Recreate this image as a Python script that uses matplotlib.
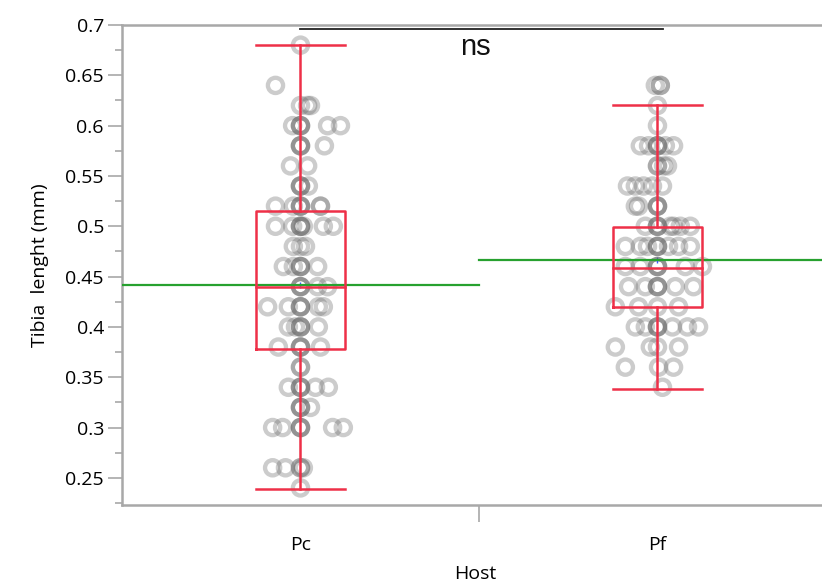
import numpy as np
import matplotlib
matplotlib.use('Agg')
import matplotlib.pyplot as plt
from matplotlib.ticker import MultipleLocator, FixedLocator

hosts = ['Pc', 'Pf']

# (value, horizontal jitter of each point at that value)
pc_rows = [
    (0.68, [0]),
    (0.64, [-0.07]),
    (0.62, [0, 0.02, 0.028]),
    (0.60, [-0.022, 0, 0, 0, 0.076, 0.112]),
    (0.58, [0, 0, 0, 0.067]),
    (0.56, [-0.028, 0.02]),
    (0.54, [0, 0, 0, 0.022]),
    (0.52, [-0.07, -0.02, 0, 0, 0, 0.056, 0.056]),
    (0.50, [-0.07, -0.022, 0, 0, 0, 0.008, 0.064, 0.092]),
    (0.48, [-0.02, 0, 0.014]),
    (0.46, [-0.048, -0.02, 0, 0, 0, 0.048]),
    (0.44, [0, 0, 0, 0.048, 0.076]),
    (0.42, [-0.092, -0.034, 0, 0, 0, 0.05, 0.064]),
    (0.40, [-0.034, -0.014, 0, 0, 0, 0.05]),
    (0.38, [-0.062, 0, 0, 0, 0.056]),
    (0.36, [0, 0]),
    (0.34, [-0.034, 0, 0, 0, 0.042, 0.078]),
    (0.32, [0, 0, 0, 0.028]),
    (0.30, [-0.078, -0.05, 0, 0, 0, 0.09, 0.12]),
    (0.26, [-0.078, -0.042, 0, 0, 0.008]),
    (0.24, [0]),
]

pf_rows = [
    (0.64, [-0.006, 0.008, 0.008]),
    (0.62, [0]),
    (0.60, [0]),
    (0.58, [-0.048, -0.025, 0, 0, 0, 0.022, 0.045]),
    (0.56, [0, 0, 0.017, 0.028]),
    (0.54, [-0.084, -0.062, -0.039, -0.014, 0.014]),
    (0.52, [-0.062, -0.053, 0, 0, 0]),
    (0.50, [-0.034, 0, 0, 0, 0.036, 0.045, 0.064, 0.092]),
    (0.48, [-0.09, -0.048, -0.028, 0, 0, 0, 0.031, 0.059, 0.092]),
    (0.46, [-0.09, -0.048, 0, 0, 0, 0.078, 0.126]),
    (0.44, [-0.081, -0.034, 0, 0, 0, 0.05, 0.101]),
    (0.42, [-0.118, -0.053, 0, 0.059]),
    (0.40, [-0.062, -0.034, 0, 0, 0, 0.042, 0.084, 0.115]),
    (0.38, [-0.118, -0.02, 0, 0.059]),
    (0.36, [-0.09, 0.003, 0.045]),
    (0.34, [0.014]),
]

# box summary
q1 = [0.378, 0.420]
median = [0.440, 0.459]
q3 = [0.515, 0.499]
whisk_lo = [0.239, 0.338]
whisk_hi = [0.680, 0.621]
means = [0.4415, 0.4665]

plt.rcParams['font.family'] = ['Open Sans', 'DejaVu Sans']

fig = plt.figure(figsize=(8.22, 5.86), dpi=100)
ax = fig.add_axes([0.1484, 0.1382, 0.8686, 0.8191])

red = '#ee3048'
green = '#27a12f'
hw = 0.125

for i, rows in enumerate([pc_rows, pf_rows]):
    xs, ys = [], []
    for v, dxs in rows:
        for dx in dxs:
            xs.append(i + dx)
            ys.append(v)
    ax.scatter(xs, ys, s=120, facecolors='none', edgecolors='#666666',
               linewidths=3.1, alpha=0.33, zorder=2)
    # mean line across the category
    ax.plot([i - 0.5, i + 0.5], [means[i], means[i]], color=green, lw=1.6, zorder=4)
    ax.plot([i], [means[i]], marker='+', color='#3a5cff', ms=5, mew=1, zorder=1)
    # box
    ax.plot([i - hw, i + hw, i + hw, i - hw, i - hw],
            [q1[i], q1[i], q3[i], q3[i], q1[i]], color=red, lw=1.8, zorder=5)
    ax.plot([i - hw, i + hw], [median[i], median[i]], color=red, lw=1.8, zorder=5)
    ax.plot([i, i], [q3[i], whisk_hi[i]], color=red, lw=1.8, zorder=5)
    ax.plot([i, i], [whisk_lo[i], q1[i]], color=red, lw=1.8, zorder=5)
    ax.plot([i - hw, i + hw], [whisk_hi[i], whisk_hi[i]], color=red, lw=1.8, zorder=5)
    ax.plot([i - hw, i + hw], [whisk_lo[i], whisk_lo[i]], color=red, lw=1.8, zorder=5)

# significance bar
ax.plot([0, 1.015], [0.696, 0.696], color='#222222', lw=1.3, zorder=6)
ax.text(0.49, 0.678, 'ns', ha='center', va='center', fontsize=21,
        family='Liberation Sans', color='#111111')

ax.set_xlim(-0.5, 1.5)
ax.set_ylim(0.223, 0.7)

ax.set_xticks([0, 1])
ax.set_xticklabels(hosts)
ax.xaxis.set_minor_locator(FixedLocator([0.5]))
ax.tick_params(axis='x', which='major', length=0, pad=22, labelsize=14)
ax.tick_params(axis='x', which='minor', length=12, width=1.2, color='#a8a8a8')

ax.set_yticks(np.arange(0.25, 0.701, 0.05))
ax.set_yticklabels(['0.25', '0.3', '0.35', '0.4', '0.45', '0.5', '0.55', '0.6', '0.65', '0.7'])
ax.yaxis.set_minor_locator(MultipleLocator(0.025))
ax.tick_params(axis='y', which='major', length=10, width=1.2, color='#a8a8a8',
               labelsize=14, pad=3)
ax.tick_params(axis='y', which='minor', length=5, width=1.2, color='#a8a8a8')

for s in ['left', 'bottom', 'top', 'right']:
    ax.spines[s].set_color('#a8a8a8')
    ax.spines[s].set_linewidth(1.8)

ax.set_xlabel('Host', fontsize=14)
ax.xaxis.set_label_coords(0.495, -0.124)
ax.set_ylabel('Tibia  lenght (mm)', fontsize=14)
ax.yaxis.set_label_coords(-0.102, 0.5)

fig.savefig('out.png', dpi=100)
